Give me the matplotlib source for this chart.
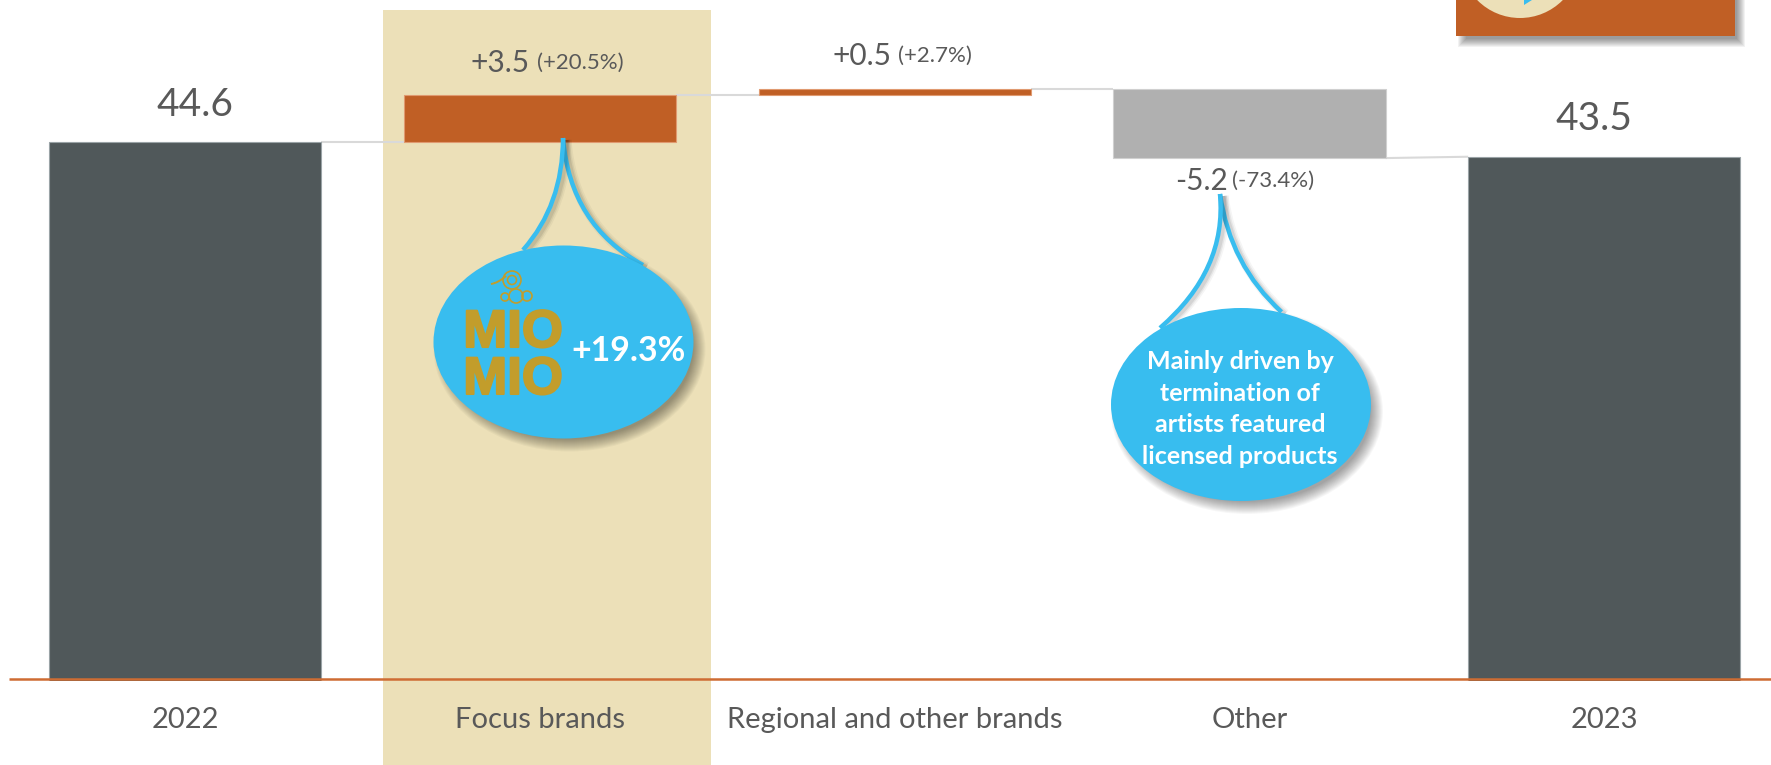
import matplotlib
matplotlib.use("Agg")
import matplotlib.pyplot as plt
import matplotlib.patheffects as pe
from matplotlib.patches import Rectangle, Ellipse, Circle, PathPatch, Polygon
from matplotlib.path import Path

plt.rcParams["font.family"] = ["Lato", "DejaVu Sans"]

# Net sales bridge, 2022 to 2023
categories = ["2022", "Focus brands", "Regional and other brands", "Other", "2023"]
totals = {"2022": 44.6, "2023": 43.5}
deltas = {"Focus brands": 3.5, "Regional and other brands": 0.5, "Other": -5.2}
delta_labels = {"Focus brands": "+3.5", "Regional and other brands": "+0.5", "Other": "-5.2"}
delta_percents = {"Focus brands": "(+20.5%)", "Regional and other brands": "(+2.7%)", "Other": "(-73.4%)"}
total_labels = {"2022": "44.6", "2023": "43.5"}
focus_note = "+19.3%"
other_note = ["Mainly driven by", "termination of", "artists featured", "licensed products"]
logo_lines = ["MIO", "MIO"]

DARK = "#50585A"
ORANGE = "#C05F25"
GREY = "#B0B0B0"
TAN = "#ECE0B8"
BLUE = "#38BDEF"
GOLD = "#C29D2B"
TEXT = "#595959"
W, H = 1771, 765

fig = plt.figure(figsize=(W / 100, H / 100), dpi=100, facecolor="white")

# Highlight band behind the focus-brands column
fig.add_artist(Rectangle((383 / W, 0), 328 / W, 755 / H, transform=fig.transFigure,
                         facecolor=TAN, edgecolor="none", zorder=-1))

# Value axis is truncated, so the bars run off the bottom of the axes
ax = fig.add_axes([0, 1 - 681 / H, 1, 681 / H], facecolor="none")
ax.set_xlim(-0.522, 4.470)
ax.set_ylim(4.23, 55.24)
for s in ax.spines.values():
    s.set_visible(False)
ax.set_yticks([])
ax.set_xticks(range(len(categories)))
ax.set_xticklabels(categories, fontsize=21, color=TEXT)
ax.tick_params(axis="x", length=0, pad=19)

BAR_W = 0.767
level = totals["2022"]
tops = []
for i, cat in enumerate(categories):
    if cat in totals:
        ax.bar(i, totals[cat], width=BAR_W, color=DARK, edgecolor="#9AA3A6", linewidth=0.8, zorder=3)
        level = totals[cat]
        tops.append((level, level))
    else:
        d = deltas[cat]
        ax.bar(i, abs(d), bottom=min(level, level + d), width=BAR_W,
               color=ORANGE if d > 0 else GREY,
               edgecolor="#E09A70" if d > 0 else "#D0D0D0", linewidth=0.8, zorder=3)
        tops.append((level, level + d))
        level += d

# Connectors between neighbouring columns
for i in range(len(categories) - 1):
    ax.plot([i + BAR_W / 2, i + 1 - BAR_W / 2], [tops[i][1], tops[i + 1][0]],
            color="#D9D9D9", lw=1.5, zorder=2, solid_capstyle="butt")

ax.plot([-0.497, 4.470], [4.40, 4.40], color="#CE6C33", lw=1.8, zorder=4, solid_capstyle="butt")

# Overlay in figure pixels for the callouts and annotations
ov = fig.add_axes([0, 0, 1, 1], facecolor="none")
ov.set_xlim(0, W)
ov.set_ylim(H, 0)
ov.axis("off")


def shadow_ellipse(cx, cy, rx, ry, dx=6, dy=7):
    for g in range(-6, 7):
        ov.add_patch(Ellipse((cx + dx, cy + dy), 2 * (rx + g), 2 * (ry + g),
                             facecolor="black", edgecolor="none", alpha=0.032, zorder=6.5))
    ov.add_patch(Ellipse((cx, cy), 2 * rx, 2 * ry, facecolor=BLUE, edgecolor="none", zorder=7))


def tail_curve(p0, c, p1, z):
    # Soft shadow first, then the blue stroke; later curves shade earlier ones
    verts = [p0, c, p1]
    codes = [Path.MOVETO, Path.CURVE3, Path.CURVE3]
    for g, a in ((9, 0.04), (6, 0.06), (3.5, 0.08)):
        off = [(x + 3.5, y + 2) for x, y in verts]
        ov.add_patch(PathPatch(Path(off, codes), facecolor="none", edgecolor="black",
                               lw=g * 0.8, alpha=a, zorder=z, capstyle="butt"))
    ov.add_patch(PathPatch(Path(verts, codes), facecolor="none", edgecolor=BLUE,
                           lw=3.2, zorder=z + 0.1, capstyle="butt"))


# Focus-brands callout
tail_curve((563, 138), (570, 225), (643, 265), 5)
tail_curve((563, 138), (563, 205), (523, 250), 5.5)
shadow_ellipse(563.5, 342, 130, 96.5)

# Other callout
tail_curve((1220, 194), (1230, 265), (1281.5, 312), 5)
tail_curve((1220, 194), (1227, 270), (1160, 328), 5.5)
shadow_ellipse(1241, 404.5, 130, 96.5)

# Brand mark inside the focus-brands callout
for (x, y), line in zip([(513, 333), (513, 380)], logo_lines):
    ov.text(x, y, line, fontsize=38, family="Liberation Sans", weight="bold", color=GOLD,
            ha="center", va="center", zorder=8,
            path_effects=[pe.withStroke(linewidth=1.5, foreground=GOLD)])
for (x, y, r) in [(512, 280, 9), (512, 280, 4.5), (516, 296, 7), (505, 297, 4), (527, 296, 5)]:
    ov.add_patch(Circle((x, y), r, facecolor="none", edgecolor=GOLD, lw=1.2, zorder=8))
ov.add_patch(PathPatch(Path([(491, 284), (498, 283), (506, 276)], [Path.MOVETO, Path.CURVE3, Path.CURVE3]),
                       facecolor="none", edgecolor=GOLD, lw=1.4, zorder=8))

ov.text(629, 351, focus_note, fontsize=24.4, weight="bold", color="white", ha="center", va="center", zorder=8)
for y, line in zip([361, 393, 424, 456], other_note):
    ov.text(1240, y, line, fontsize=18, weight="bold", color="white", ha="center", va="center", zorder=8)

# Total labels
ov.text(195, 105, total_labels["2022"], fontsize=28, color=TEXT, ha="center", va="center", zorder=8)
ov.text(1594, 119, total_labels["2023"], fontsize=28, color=TEXT, ha="center", va="center", zorder=8)

# Delta labels: value with a smaller percentage beside it
delta_pos = {"Focus brands": (530, 537, 63),
             "Regional and other brands": (892, 898, 56),
             "Other": (1228, 1232, 181)}
for cat, (xr, xl, y) in delta_pos.items():
    ov.text(xr, y, delta_labels[cat], fontsize=21.5, color=TEXT, ha="right", va="center", zorder=8)
    ov.text(xl, y, delta_percents[cat], fontsize=16, color=TEXT, ha="left", va="center", zorder=8)

# Cropped badge panel at the top right
for g in range(-4, 5):
    ov.add_patch(Rectangle((1456 + 6 - g, -20), 279 + 2 * g, 56 + 7 + g, facecolor="black",
                           edgecolor="none", alpha=0.05, zorder=5))
ov.add_patch(Rectangle((1456, -20), 279, 56, facecolor=ORANGE, edgecolor="none", zorder=7))
ov.add_patch(Circle((1520, -42), 60, facecolor=TAN, edgecolor="none", zorder=8))
ov.add_patch(Polygon([(1524, 5), (1524, 0), (1532, 0)], closed=True, facecolor=BLUE,
                     edgecolor="none", zorder=9))

fig.savefig("out.png", dpi=100)
